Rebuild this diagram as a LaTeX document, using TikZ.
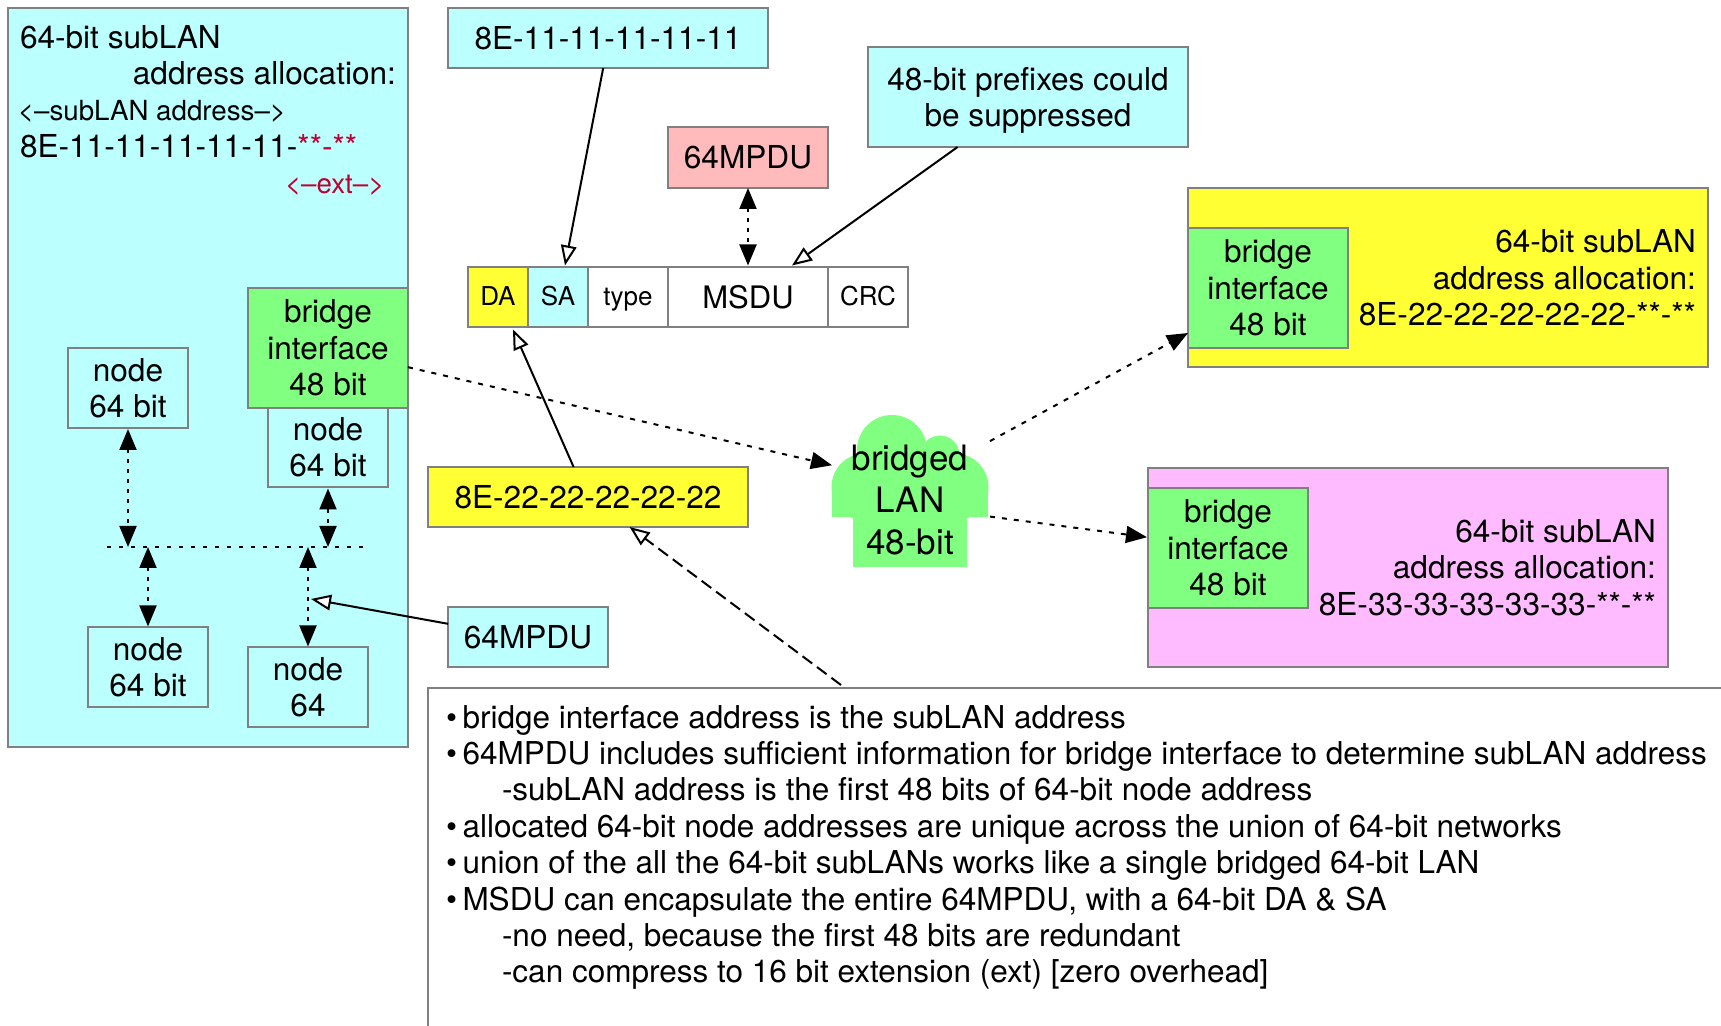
\documentclass[tikz,border=0pt]{standalone}
\usepackage{fontspec}
\setmainfont{TeX Gyre Heros}
\usetikzlibrary{arrows.meta,calc}
\definecolor{cy}{HTML}{BBFFFF}
\definecolor{yl}{HTML}{FFFF33}
\definecolor{pk}{HTML}{FFBBBB}
\definecolor{gr}{HTML}{80FF80}
\definecolor{mg}{HTML}{FFBBFF}
\definecolor{bd}{HTML}{808080}
\definecolor{rd}{HTML}{C00030}
\newcommand{\fbig}{\fontsize{15.8}{18.2}\selectfont}
\newcommand{\fsmall}{\fontsize{13}{15}\selectfont}
\newcommand{\fmini}{\fontsize{13.85}{15}\selectfont}
\tikzset{
  wh/.style 2 args={minimum width=#1*0.5pt,minimum height=#2*0.5pt},
  box/.style={draw=bd,line width=1pt,inner sep=0pt,outer sep=0pt,align=center,font=\fbig},
  txt/.style={inner sep=0pt,outer sep=0pt,font=\fbig},
  sm/.style={font=\fsmall,text height=9.4pt,text depth=1.2pt},
  solidarr/.style={line width=1pt,black,-{Triangle[open,length=10pt,width=7.8pt,fill=white]}},
  dotarr/.style={line width=1pt,black,dash pattern=on 2.5pt off 3.5pt,-{Triangle[length=10.5pt,width=8.5pt]}},
  dotboth/.style={line width=1pt,black,dash pattern=on 2pt off 3pt,{Triangle[length=10.5pt,width=8.5pt]}-{Triangle[length=10.5pt,width=8.5pt]}},
  dasharr/.style={line width=1pt,black,dash pattern=on 6pt off 3pt,-{Triangle[open,length=10pt,width=7.8pt,fill=white]}},
}
\begin{document}
\begin{tikzpicture}[x=0.5pt,y=-0.5pt]
\useasboundingbox (0,0) rectangle (1721,1026);
\clip (0,0) rectangle (1721,1026);
% panels
\node[box,fill=cy,wh={400}{739}] (leftpanel) at (208,377.5) {};
\node[box,fill=yl,wh={520}{179}] (yellowpanel) at (1448,277.5) {};
\node[box,fill=mg,wh={520}{199}] (pinkpanel) at (1408,567.5) {};
% left panel text
\node[txt,anchor=base west] (lt1) at (20,49) {64-bit subLAN};
\node[txt,anchor=base east] (lt2) at (396,85) {address allocation:};
\node[txt,anchor=base west,font=\fmini] (lt3) at (18,121) {<–subLAN address–>};
\node[txt,anchor=base west] (lt4) at (20,158) {8E-11-11-11-11-11-\textcolor{rd}{**-**}};
\node[txt,anchor=base west,text=rd,font=\fmini] (lt5) at (285,194) {<–ext–>};
% top boxes
\node[box,fill=cy,wh={320}{60}] (e11) at (608,38) {8E-11-11-11-11-11};
\node[box,fill=cy,wh={320}{100}] (prefix) at (1028,97) {\rule{0pt}{15pt}48-bit prefixes could\\be suppressed};
\node[box,fill=pk,wh={160}{61}] (mpduA) at (748,157.5) {64MPDU};
% frame
\node[box,sm,fill=yl,wh={60}{60}] (da) at (498,297.5) {DA};
\node[box,sm,fill=cy,wh={60}{60}] (sa) at (558,297.5) {SA};
\node[box,sm,fill=white,wh={80}{60}] (type) at (628,297.5) {type};
\node[box,fill=white,wh={160}{60},font=\fontsize{15.5}{18}\selectfont] (msdu) at (748,297.5) {MSDU};
\node[box,sm,fill=white,wh={80}{60}] (crc) at (868,297.5) {CRC};
% left panel nodes
\node[box,fill=cy,wh={120}{80}] (nA) at (128,388) {node\\64 bit};
\node[box,fill=cy,wh={120}{80}] (nB) at (328,447.5) {node\\64 bit};
\node[box,fill=gr,wh={160}{120}] (brL) at (328,348) {bridge\\interface\\48 bit};
\node[box,fill=cy,wh={120}{80}] (nC) at (148,667.5) {node\\64 bit};
\node[box,fill=cy,wh={120}{80}] (nD) at (308,687.5) {node\\64};
\coordinate (busL) at (107,547);
\coordinate (busR) at (368,547);
\coordinate (busT) at (308,599);
% middle boxes
\node[box,fill=cy,wh={160}{60}] (mpduB) at (528,637) {64MPDU};
\node[box,fill=yl,wh={320}{60}] (e22) at (588,497) {8E-22-22-22-22-22};
% right panels
\node[box,fill=gr,wh={160}{120}] (brY) at (1268,288) {bridge\\interface\\48 bit};
\node[txt,align=right,anchor=east] (yt) at (1696,278) {64-bit subLAN\\address allocation:\\8E-22-22-22-22-22-**-**};
\node[box,fill=gr,wh={160}{120}] (brP) at (1228,548) {bridge\\interface\\48 bit};
\node[txt,align=right,anchor=east] (pt) at (1656,567.5) {64-bit subLAN\\address allocation:\\8E-33-33-33-33-33-**-**};
% cloud
\foreach \cx/\cy/\r in {865/487/33.5, 955/487/33.5, 892/450/35, 940/455/19.5}
  \fill[gr] (\cx,\cy) circle[radius=\r];
\fill[gr] (832,487) rectangle (988,517);
\fill[gr] (868,450) rectangle (955,500);
\fill[gr] (853,510) rectangle (967,567);
\node[inner sep=0pt,outer sep=0pt,wh={156}{151},align=center,font=\fontsize{17.5}{21}\selectfont] (cloud) at (910,500) {bridged\\LAN\\48-bit};
% notes
\node[box,fill=white,wh={1400}{500},anchor=north west] (notes) at (428,688) {};
\node[txt,anchor=north west,align=left,font=\fontsize{15.75}{18.2}\selectfont] (notestext) at (446,705) {%
\textbullet\hspace{2.75pt}bridge interface address is the subLAN address\\
\textbullet\hspace{2.75pt}64MPDU includes sufficient information for bridge interface to determine subLAN address\\
\hspace*{28pt}-subLAN address is the first 48 bits of 64-bit node address\\
\textbullet\hspace{2.75pt}allocated 64-bit node addresses are unique across the union of 64-bit networks\\
\textbullet\hspace{2.75pt}union of the all the 64-bit subLANs works like a single bridged 64-bit LAN\\
\textbullet\hspace{2.75pt}MSDU can encapsulate the entire 64MPDU, with a 64-bit DA \& SA\\
\hspace*{28pt}-no need, because the first 48 bits are redundant\\
\hspace*{28pt}-can compress to 16 bit extension (ext) [zero overhead]};
% connectors
\draw[line width=1pt,dash pattern=on 2pt off 4pt] (busL) -- (busR);
\draw[solidarr] ($(e11.south west)!0.485!(e11.south east)$) -- ($(sa.north)+(7,-2)$);
\draw[solidarr] ($(prefix.south west)!0.28!(prefix.south east)$) -- ($(msdu.north)+(44,-2)$);
\draw[dotboth] (mpduA.south) -- ($(msdu.north)+(0,-2)$);
\draw[solidarr] ($(e22.north west)!0.455!(e22.north east)$) -- ($(da.south)+(15,2)$);
\draw[dasharr] ($(notes.north west)!0.295!(notes.north east)+(0,-3)$) -- ($(e22.south west)!0.63!(e22.south east)$);
\draw[dotarr] ($(brL.north east)!0.66!(brL.south east)$) -- ($(cloud.north west)!0.27!(cloud.south west)$);
\draw[dotarr] ($(cloud.north east)!0.11!(cloud.south east)+(2,0)$) -- ($(brY.north west)!0.875!(brY.south west)$);
\draw[dotarr] ($(cloud.north east)!0.61!(cloud.south east)+(2,0)$) -- ($(brP.north west)!0.41!(brP.south west)+(-1,0)$);
\draw[dotboth] ($(nA.south)+(0,1)$) -- (nA.south |- busL);
\draw[dotboth] ($(nB.south)+(0,1)$) -- (nB.south |- busL);
\draw[dotboth] (nC.north |- busL) -- ($(nC.north)+(0,-1)$);
\draw[dotboth] (nD.north |- busL) -- ($(nD.north)+(0,-1)$);
\draw[solidarr] ($(mpduB.north west)!0.28!(mpduB.south west)$) -- ($(busT)+(3,0)$);
\end{tikzpicture}
\end{document}
